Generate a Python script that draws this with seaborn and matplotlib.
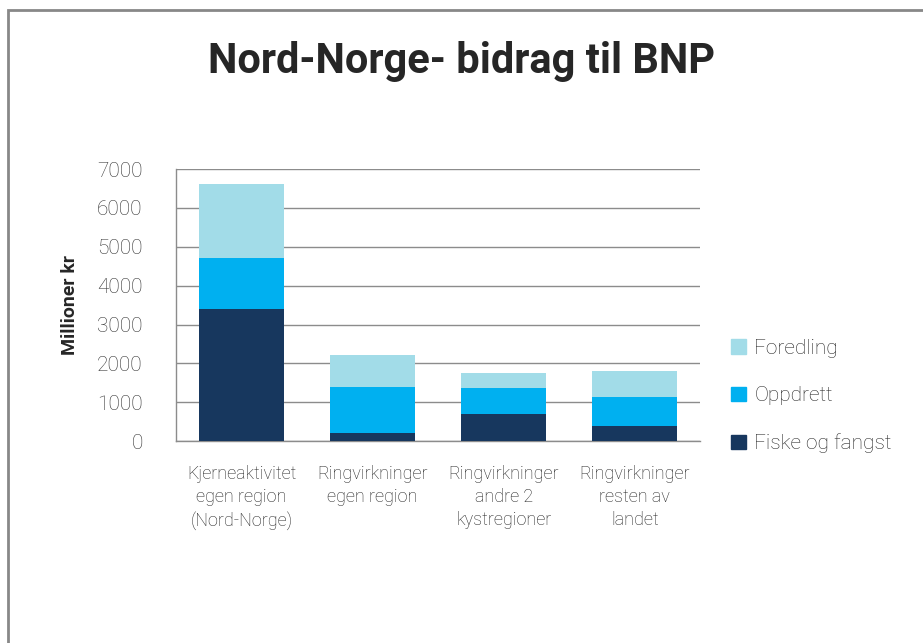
import matplotlib
matplotlib.use("Agg")
import matplotlib.pyplot as plt
import numpy as np
import pandas as pd
import seaborn as sns
from matplotlib.patches import Rectangle, Patch

categories = [
    "Kjerneaktivitet\negen region\n(Nord-Norge)",
    "Ringvirkninger\negen region",
    "Ringvirkninger\nandre 2\nkystregioner",
    "Ringvirkninger\nresten av\nlandet",
]
fiske = [3400, 210, 710, 385]
oppdrett = [1300, 1190, 650, 750]
foredling = [1920, 810, 400, 660]

colors = {"Fiske og fangst": "#17375E", "Oppdrett": "#00B0F0", "Foredling": "#A2DCE8"}

sns.set_style("white")
plt.rcParams["font.family"] = ["Roboto", "DejaVu Sans"]

df = pd.DataFrame({"kategori": categories, "Fiske og fangst": fiske,
                   "Oppdrett": oppdrett, "Foredling": foredling})
# cumulative heights, drawn from top segment down
df["lvl1"] = df["Fiske og fangst"]
df["lvl2"] = df["lvl1"] + df["Oppdrett"]
df["lvl3"] = df["lvl2"] + df["Foredling"]

fig = plt.figure(figsize=(9.23, 6.43), dpi=100)
ax = fig.add_axes([0.1907, 0.314, 0.568, 0.423])

for col, name in [("lvl3", "Foredling"), ("lvl2", "Oppdrett"), ("lvl1", "Fiske og fangst")]:
    sns.barplot(data=df, x="kategori", y=col, color=colors[name], width=0.65,
                saturation=1, ax=ax, zorder=3, linewidth=0)

ax.set_xlim(-0.5, 3.5)
ax.set_ylim(0, 7000)
ax.set_yticks(np.arange(0, 7001, 1000))
ax.yaxis.grid(True, color="#8c8c8c", linewidth=1, zorder=0)
ax.set_axisbelow(True)
for s in ["top", "right"]:
    ax.spines[s].set_visible(False)
for s in ["left", "bottom"]:
    ax.spines[s].set_color("#8c8c8c")
    ax.spines[s].set_linewidth(1)
ax.tick_params(axis="y", length=0, pad=24, labelsize=15, labelcolor="#333333")
ax.tick_params(axis="x", length=0, pad=17, labelsize=13, labelcolor="#222222")
for lbl in ax.get_xticklabels():
    lbl.set_fontweight("light")
    lbl.set_linespacing(1.35)
for lbl in ax.get_yticklabels():
    lbl.set_fontweight("light")
ax.set_xlabel("")
ax.set_ylabel("Millioner kr", fontsize=14, fontweight="bold", labelpad=13)

fig.text(0.5, 0.905, "Nord-Norge- bidrag til BNP", ha="center", va="center",
         fontsize=30, fontweight="bold")

handles = [Patch(color=colors[n]) for n in ["Foredling", "Oppdrett", "Fiske og fangst"]]
legend = fig.legend(handles, ["Foredling", "Oppdrett", "Fiske og fangst"], loc="center left",
                    bbox_to_anchor=(0.772, 0.384), frameon=False, fontsize=15,
                    handlelength=0.7, handleheight=0.7, handletextpad=0.4, labelspacing=1.35)
for t in legend.get_texts():
    t.set_fontweight("light")

fig.patches.append(Rectangle((0.0087, -0.1), 1.05, 1.0844, transform=fig.transFigure,
                             fill=False, edgecolor="#888888", linewidth=2))

fig.savefig("out.png", dpi=100)
